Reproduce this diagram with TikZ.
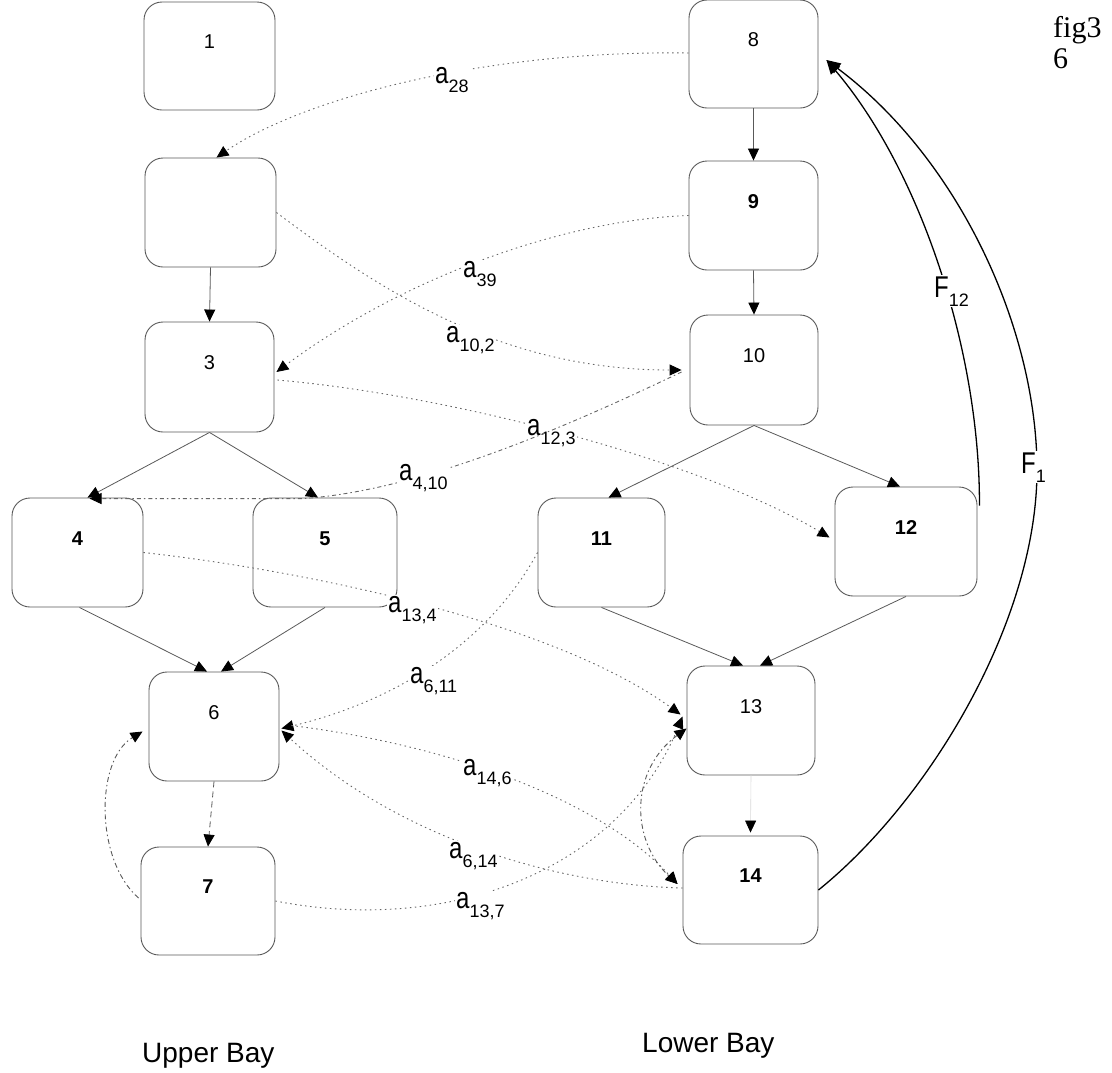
\documentclass[tikz,border=0pt]{standalone}
\usepackage{graphicx}
\usepackage{fontspec}
\setmainfont{Liberation Sans}
\newfontfamily\serifface{Liberation Serif}
\usetikzlibrary{arrows.meta,calc}
\newcommand{\sublab}[2]{\scalebox{0.8}[1]{\fontsize{30}{30}\selectfont #1}\raisebox{-9pt}{\fontsize{18}{18}\selectfont #2}}
\begin{document}
\begin{tikzpicture}[x=1pt,y=-1pt,
  box/.style={draw=black!65, line width=0.9pt, rounded corners=18pt, inner sep=0pt,
    text height=14pt, text depth=29pt, font=\fontsize{20}{20}\selectfont},
  bbox/.style={box, font=\fontsize{20}{20}\selectfont\bfseries},
  arr/.style={draw=black!65, line width=0.8pt, -{Triangle[length=12pt,width=11pt,color=black]}},
  faint/.style={draw=black!15, line width=0.6pt, -{Triangle[length=12pt,width=11pt,color=black]}},
  dotc/.style={draw=black!60, line width=0.9pt, dash pattern=on 1.5pt off 3.5pt, -{Triangle[length=12pt,width=11pt,color=black]}},
  dashdotc/.style={draw=black!65, line width=0.9pt, dash pattern=on 5pt off 3pt on 1.5pt off 3pt},
  fcurve/.style={draw=black, line width=1.3pt, -{Triangle[length=14pt,width=12pt]}},
  lbl/.style={fill=white, inner sep=1pt, anchor=base west},
  capstyle/.style={inner sep=0pt, anchor=base west, font=\fontsize{28}{28}\selectfont},
  figstyle/.style={inner sep=0pt, anchor=base west, font=\serifface\fontsize{30}{30}\selectfont}]
\useasboundingbox (0,0) rectangle (1112,1072);

% boxes
\node[box,  minimum width=131pt, minimum height=108pt] (n1)  at (209.5,56)   {1};
\node[box,  minimum width=131pt, minimum height=109pt] (n2)  at (210.5,212.5) {};
\node[box,  minimum width=129pt, minimum height=110pt] (n3)  at (209.5,377)  {3};
\node[bbox, minimum width=131pt, minimum height=109pt] (n4)  at (77.5,552.5) {4};
\node[bbox, minimum width=144pt, minimum height=109pt] (n5)  at (325,552.5)  {5};
\node[box,  minimum width=130pt, minimum height=109pt] (n6)  at (214,726.5)  {6};
\node[bbox, minimum width=134pt, minimum height=108pt] (n7)  at (208,901)    {7};
\node[box,  minimum width=129pt, minimum height=108pt] (n8)  at (753.5,54)   {8};
\node[bbox, minimum width=129pt, minimum height=109pt] (n9)  at (753.5,215.5) {9};
\node[box,  minimum width=128pt, minimum height=110pt] (n10) at (754,370)    {10};
\node[bbox, minimum width=127pt, minimum height=109pt] (n11) at (601.5,552.5) {11};
\node[bbox, minimum width=142pt, minimum height=109pt] (n12) at (906,541.5)  {12};
\node[box,  minimum width=128pt, minimum height=109pt] (n13) at (751,720.5)  {13};
\node[bbox, minimum width=135pt, minimum height=108pt] (n14) at (750.5,890)  {14};

% solid tree arrows
\draw[arr] (n8.south) -- (n9.north);
\draw[arr] (n2.south) -- (n3.north);
\draw[arr] (n9.south) -- (n10.north);
\draw[arr] (n3.south) -- ($(n4.north)+(10,0)$);
\draw[arr] (n3.south) -- ($(n5.north)+(-7,0)$);
\draw[arr] (n10.south) -- ($(n11.north)+(7,0)$);
\draw[arr] (n10.south) -- ($(n12.north)+(-6,0)$);
\draw[arr] ($(n4.south)+(2,0)$) -- ($(n6.north)+(-7,0)$);
\draw[arr] (n5.south) -- ($(n6.north)+(7,0)$);
\draw[arr] (n11.south) -- ($(n13.north)+(-8,0)$);
\draw[arr] (n12.south) -- ($(n13.north)+(9,0)$);
\draw[arr, dash pattern=on 6pt off 4pt] (n6.south) -- (n7.north);
\draw[faint] (n13.south) -- ($(n14.north)+(0,-3)$);

% dotted interaction curves
\draw[dotc] ($(n8.west)+(0,-1)$) .. controls (480,50) and (300,100) .. ($(n2.north)+(6,0)$);
\node[lbl] (la28) at (434,83) {\sublab{a}{28}};

\draw[dotc] (n9.west) .. controls (560,220) and (400,280) .. ($(n3.east)+(2,-5)$);
\node[lbl] (la39) at (462,277) {\sublab{a}{39}};

\draw[dotc] (n2.east) .. controls (380,290) and (500,370) .. ($(n10.west)+(-8,0)$);
\node[lbl] (la102) at (445,342) {\sublab{a}{10,2}};

\draw[dotc] ($(n3.east)+(3,3)$) .. controls (450,395) and (700,460) .. ($(n12.west)+(-5,-4)$);
\node[lbl] (la123) at (526,435) {\sublab{a}{12,3}};

\draw[dotc, dash pattern=on 4pt off 3pt on 1.5pt off 3pt] ($(n10.west)+(-8,2)$) .. controls (560,430) and (420,490) .. ($(n5.north)+(-21,1)$) -- ($(n4.north)+(12,1)$);
\node[lbl] (la410) at (398,480) {\sublab{a}{4,10}};

\draw[dotc] (n4.east) .. controls (300,570) and (550,620) .. ($(n13.west)+(-6,-6)$);
\node[lbl] (la134) at (387,612) {\sublab{a}{13,4}};

\draw[dotc] (n11.west) .. controls (490,640) and (400,700) .. ($(n6.east)+(2,2)$);
\node[lbl] (la611) at (409,683) {\sublab{a}{6,11}};

\draw[dotc] ($(n6.east)+(12,-1)$) .. controls (450,745) and (600,800) .. ($(n14.west)+(-5,-6)$);
\node[lbl] (la146) at (462,775) {\sublab{a}{14,6}};

\draw[dotc] ($(n14.west)+(0,-2)$) .. controls (560,885) and (400,840) .. ($(n6.east)+(2,4)$);
\node[lbl] (la614) at (448,858) {\sublab{a}{6,14}};

\draw[dotc] (n7.east) .. controls (450,935) and (620,870) .. ($(n13.west)+(-4,-4)$);
\node[lbl] (la137) at (455,908) {\sublab{a}{13,7}};

% dash-dot loops
\draw[dashdotc, {Triangle[length=12pt,width=11pt,color=black]}-{Triangle[length=12pt,width=11pt,color=black]}]
  ($(n13.west)+(0,8)$) .. controls (630,770) and (630,840) .. ($(n14.west)+(-5,-6)$);
\draw[dashdotc, -{Triangle[length=12pt,width=11pt,color=black]}]
  ($(n7.west)+(-2,-3)$) .. controls (95,860) and (95,760) .. ($(n6.west)+(-6,5)$);

% F curves
\draw[fcurve] (n14.east) .. controls (930,800) and (1037,620) .. (1037,470)
  .. controls (1037,330) and (960,160) .. ($(n8.east)+(8,6)$);
\draw[fcurve] ($(n12.east)+(2,-36)$) .. controls (980,350) and (920,170) .. ($(n8.east)+(8,6)$);
\node[lbl] (lF12) at (933,297) {\sublab{F}{12}};
\node[lbl] (lF1) at (1020,473) {\sublab{F}{1}};

% captions
\node[capstyle] (upper) at (142,1062) {Upper Bay};
\node[capstyle] (lower) at (642,1052) {Lower Bay};
\node[figstyle] (fig) at (1053,37) {fig3};
\node[figstyle] (fig6) at (1053,68) {6};
\end{tikzpicture}
\end{document}
